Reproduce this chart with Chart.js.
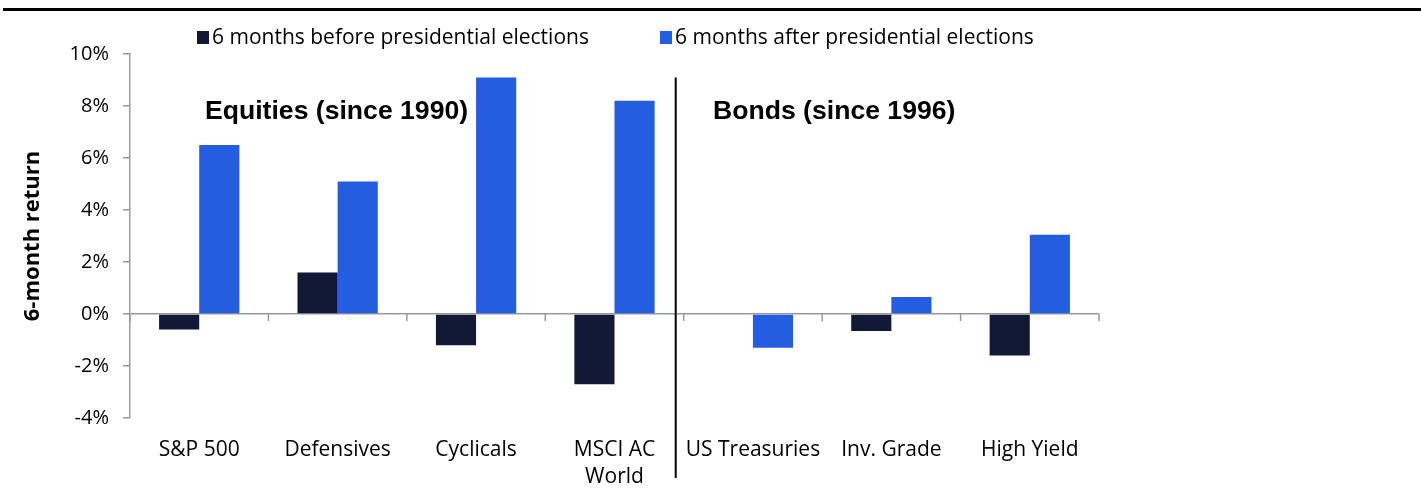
<!DOCTYPE html>
<html>
<head>
<meta charset="utf-8">
<script src="https://cdn.jsdelivr.net/npm/chart.js@4/dist/chart.umd.min.js"></script>
<style>
  html, body { margin: 0; padding: 0; background: #ffffff; }
  #wrap { position: relative; width: 1421px; height: 504px; }
</style>
</head>
<body>
<div id="wrap"><canvas id="c" width="1421" height="504"></canvas></div>
<script>
// ---- data ----
const categories = ['S&P 500', 'Defensives', 'Cyclicals', ['MSCI AC', 'World'], 'US Treasuries', 'Inv. Grade', 'High Yield'];
const seriesNames = ['6 months before presidential elections', '6 months after presidential elections'];
const beforeValues = [-0.6, 1.6, -1.2, -2.7, 0, -0.65, -1.6];
const afterValues = [6.5, 5.1, 9.1, 8.2, -1.3, 0.65, 3.05];
const yTickValues = [-4, -2, 0, 2, 4, 6, 8, 10];
const sectionTitles = ['Equities (since 1990)', 'Bonds (since 1996)'];
const yAxisTitle = '6-month return';

const NAVY = '#111936';
const BLUE = '#255DE1';
const FONT = "'Open Sans', 'Noto Sans', sans-serif";

const decorations = {
  id: 'decorations',
  beforeDraw(chart) {
    const ctx = chart.ctx;
    ctx.save();
    ctx.fillStyle = '#000';
    ctx.fillRect(3, 8, 1418, 3);
    ctx.restore();
  },
  afterDraw(chart) {
    const ctx = chart.ctx;
    const xs = chart.scales.x, ys = chart.scales.y;
    ctx.save();
    // legend
    ctx.font = "21px " + FONT;
    ctx.textBaseline = 'middle';
    ctx.textAlign = 'left';
    const legendX = [197, 660];
    chart.data.datasets.forEach((ds, i) => {
      ctx.fillStyle = ds.backgroundColor;
      ctx.fillRect(legendX[i], 31, 12, 13);
      ctx.fillStyle = '#000';
      ctx.fillText(ds.label, legendX[i] + 15, 38);
    });
    // zero-line category ticks
    const y0 = ys.getPixelForValue(0);
    ctx.strokeStyle = '#999';
    ctx.lineWidth = 1.5;
    for (let i = 0; i <= categories.length; i++) {
      const x = xs.getPixelForValue(i - 0.5);
      ctx.beginPath();
      ctx.moveTo(x, y0);
      ctx.lineTo(x, y0 + 7);
      ctx.stroke();
    }
    // divider line
    const xd = (xs.getPixelForValue(3) + xs.getPixelForValue(4)) / 2 - 8;
    ctx.strokeStyle = '#000';
    ctx.lineWidth = 2;
    ctx.beginPath();
    ctx.moveTo(xd, ys.getPixelForValue(9.1));
    ctx.lineTo(xd, 478);
    ctx.stroke();
    // section titles
    ctx.font = "bold 26.6px 'Liberation Sans', Arial, sans-serif";
    ctx.fillStyle = '#000';
    ctx.textBaseline = 'middle';
    const yt = ys.getPixelForValue(7.8);
    ctx.fillText(sectionTitles[0], 205, yt);
    ctx.fillText(sectionTitles[1], 713, yt);
    ctx.restore();
  }
};

new Chart(document.getElementById('c'), {
  type: 'bar',
  data: {
    labels: categories,
    datasets: [
      { label: seriesNames[0], data: beforeValues, backgroundColor: NAVY, borderWidth: 0 },
      { label: seriesNames[1], data: afterValues, backgroundColor: BLUE, borderWidth: 0 }
    ]
  },
  options: {
    responsive: false,
    animation: false,
    devicePixelRatio: 1,
    layout: { padding: { left: 0, top: 54, right: 322, bottom: 0 } },
    plugins: { legend: { display: false }, tooltip: { enabled: false } },
    datasets: { bar: { categoryPercentage: 0.58, barPercentage: 1.0 } },
    scales: {
      x: {
        grid: { display: false },
        border: { display: false },
        ticks: { font: { family: FONT, size: 21, lineHeight: 1.3 }, color: '#000', padding: 10, maxRotation: 0, autoSkip: false },
        afterFit(s) { s.height = 86; }
      },
      y: {
        min: -4, max: 10,
        afterBuildTicks(s) { s.ticks = yTickValues.map(v => ({ value: v })); },
        ticks: { font: { family: FONT, size: 20 }, color: '#000', padding: 14, callback: v => v + '%' },
        grid: {
          drawOnChartArea: true,
          color: ctx => (ctx.tick && ctx.tick.value === 0) ? '#999' : 'rgba(0,0,0,0)',
          lineWidth: 1.5,
          tickColor: '#999',
          tickLength: 7
        },
        border: { display: true, color: '#999', width: 1.5 },
        title: { display: true, text: yAxisTitle, font: { family: FONT, size: 22, weight: 'bold' }, color: '#000', padding: { top: 20, bottom: 0 } },
        afterFit(s) { s.width = 130; }
      }
    }
  },
  plugins: [decorations]
});
</script>
</body>
</html>
